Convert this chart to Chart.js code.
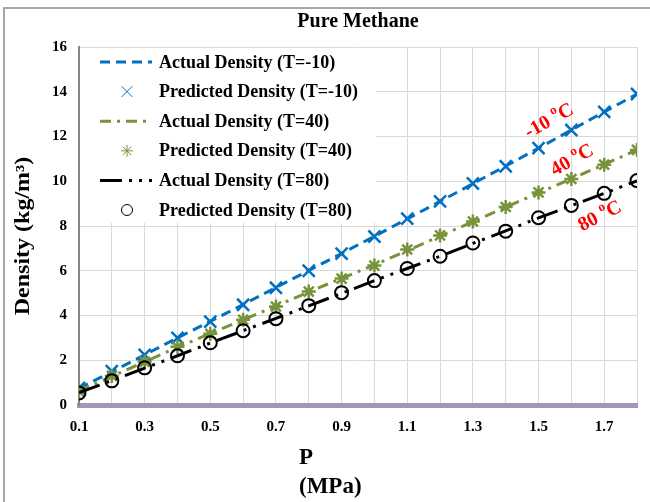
<!DOCTYPE html>
<html>
<head>
<meta charset="utf-8">
<script src="https://cdn.jsdelivr.net/npm/chart.js@4/dist/chart.umd.min.js"></script>
<style>
  body { margin: 0; background: #fff; }
</style>
</head>
<body>
<canvas id="myChart" width="650" height="502"></canvas>
<script>
// presion (MPa) y densidades (kg/m3)
var presion = [0.1, 0.2, 0.3, 0.4, 0.5, 0.6, 0.7, 0.8, 0.9, 1.0, 1.1, 1.2, 1.3, 1.4, 1.5, 1.6, 1.7, 1.8];

var actualMenos10 = [0.74, 1.49, 2.24, 3.0, 3.74, 4.49, 5.25, 6.01, 6.77, 7.54, 8.32, 9.1, 9.89, 10.68, 11.48, 12.29, 13.1, 13.9];
var predMenos10   = [0.76, 1.51, 2.24, 3.0, 3.73, 4.48, 5.24, 6.0, 6.77, 7.53, 8.33, 9.1, 9.9, 10.67, 11.48, 12.29, 13.1, 13.9];

var actual40 = [0.63, 1.28, 1.93, 2.58, 3.19, 3.81, 4.42, 5.05, 5.66, 6.26, 6.9, 7.55, 8.19, 8.84, 9.48, 10.11, 10.75, 11.4];
var pred40   = [0.62, 1.3, 1.93, 2.6, 3.18, 3.81, 4.4, 5.07, 5.65, 6.23, 6.95, 7.58, 8.2, 8.85, 9.5, 10.1, 10.74, 11.4];

var actual80 = [0.55, 1.09, 1.65, 2.2, 2.77, 3.32, 3.87, 4.43, 4.99, 5.56, 6.1, 6.65, 7.22, 7.78, 8.36, 8.91, 9.46, 10.02];
var pred80   = [0.54, 1.08, 1.66, 2.2, 2.78, 3.32, 3.86, 4.44, 5.02, 5.56, 6.1, 6.65, 7.24, 7.77, 8.37, 8.92, 9.46, 10.03];

var etiquetasX = ['0.1', '0.3', '0.5', '0.7', '0.9', '1.1', '1.3', '1.5', '1.7'];
var etiquetasY = [0, 2, 4, 6, 8, 10, 12, 14, 16];

var nombres = [
  'Actual Density (T=-10)',
  'Predicted Density (T=-10)',
  'Actual Density (T=40)',
  'Predicted Density (T=40)',
  'Actual Density (T=80)',
  'Predicted Density (T=80)'
];
var rotulosTemp = ['-10', '40', '80'];

var fuente = '"Liberation Serif", "Times New Roman", serif';
var azul = '#0070C0', verde = '#77933C', negro = '#000000';

function puntos(ys) {
  var out = [];
  for (var i = 0; i < presion.length; i++) {
    out.push({ x: presion[i], y: ys[i] });
  }
  return out;
}

function linea(nombre, ys, color, dash, orden) {
  return {
    label: nombre, data: puntos(ys), showLine: true,
    borderColor: color, backgroundColor: color, borderWidth: 3,
    borderDash: dash, pointRadius: 0, pointHoverRadius: 0, order: orden
  };
}

function marcas(nombre, ys, color, estilo, radio, grosor, orden) {
  return {
    label: nombre, data: puntos(ys), showLine: false,
    borderColor: color, backgroundColor: 'rgba(0,0,0,0)',
    pointStyle: estilo, pointRadius: radio, pointBorderWidth: grosor,
    pointBorderColor: color, pointBackgroundColor: 'rgba(0,0,0,0)', order: orden
  };
}

var datasets = [
  linea(nombres[0], actualMenos10, azul, [10, 6], 6),
  marcas(nombres[1], predMenos10, azul, 'crossRot', 8.5, 2.5, 5),
  linea(nombres[2], actual40, verde, [11, 6, 3, 6], 4),
  marcas(nombres[3], pred40, verde, 'star', 7, 2.5, 3),
  linea(nombres[4], actual80, negro, [22, 7, 3, 7, 3, 7], 2),
  marcas(nombres[5], pred80, negro, 'circle', 6.5, 2, 1)
];

function escribir(ctx, txt, x, y, font, align) {
  ctx.font = font;
  ctx.textAlign = align;
  ctx.fillText(txt, x, y);
}

function textoGrado(ctx, px, py, num, ang) {
  ctx.save();
  ctx.translate(px, py);
  ctx.rotate(ang * Math.PI / 180);
  ctx.fillStyle = '#FF0000';
  ctx.textBaseline = 'alphabetic';
  ctx.textAlign = 'left';
  var f1 = 'bold 20px ' + fuente, f2 = 'bold 13px ' + fuente;
  ctx.font = f1;
  var w1 = ctx.measureText(num + ' ').width;
  var w3 = ctx.measureText('C').width;
  ctx.font = f2;
  var w2 = ctx.measureText('o').width;
  var x0 = -(w1 + w2 + w3) / 2;
  ctx.font = f1; ctx.fillText(num + ' ', x0, 7);
  ctx.font = f2; ctx.fillText('o', x0 + w1, -2);
  ctx.font = f1; ctx.fillText('C', x0 + w1 + w2, 7);
  ctx.restore();
}

var extras = {
  id: 'extras',
  beforeDraw: function (chart) {
    var ctx = chart.ctx;
    var ca = chart.chartArea;
    ctx.save();
    // marco exterior
    ctx.strokeStyle = '#A6A6A6';
    ctx.lineWidth = 2;
    ctx.strokeRect(4, 8, 700, 600);
    ctx.fillStyle = '#000';
    ctx.textBaseline = 'middle';
    escribir(ctx, 'Pure Methane', (ca.left + ca.right) / 2, 22, 'bold 20px ' + fuente, 'center');
    // titulo eje x en dos lineas
    escribir(ctx, 'P', 299, 458, 'bold 23px ' + fuente, 'left');
    escribir(ctx, '(MPa)', 299, 487, 'bold 23px ' + fuente, 'left');
    // titulo eje y
    ctx.translate(24, 236);
    ctx.rotate(-Math.PI / 2);
    ctx.scale(1, 0.85);
    ctx.textAlign = 'center';
    ctx.font = 'bold 24px ' + fuente;
    ctx.fillText('Density (kg/m\u00B3)', 0, 0);
    ctx.restore();
  },
  afterDatasetsDraw: function (chart) {
    var ctx = chart.ctx;
    var ca = chart.chartArea;
    ctx.save();
    ctx.fillStyle = '#fff';
    ctx.fillRect(ca.left + 1, ca.top + 1, 296, 175);
    for (var i = 0; i < datasets.length; i++) {
      var ds = datasets[i];
      var y = 62 + i * 29.6;
      if (ds.showLine) {
        ctx.save();
        ctx.strokeStyle = ds.borderColor;
        ctx.lineWidth = 3;
        ctx.setLineDash(ds.borderDash);
        ctx.beginPath();
        ctx.moveTo(100, y);
        ctx.lineTo(152, y);
        ctx.stroke();
        ctx.restore();
      } else {
        ctx.save();
        ctx.strokeStyle = ds.pointBorderColor;
        ctx.fillStyle = 'rgba(0,0,0,0)';
        Chart.helpers.drawPoint(ctx, { pointStyle: ds.pointStyle, radius: ds.pointRadius - 1, borderWidth: ds.pointBorderWidth, rotation: 0 }, 127, y);
        ctx.restore();
      }
      ctx.fillStyle = '#000';
      ctx.textBaseline = 'middle';
      escribir(ctx, ds.label, 159, y + 1, 'bold 18px ' + fuente, 'left');
    }
    ctx.restore();
  },
  afterDraw: function (chart) {
    var ctx = chart.ctx;
    var sx = chart.scales.x, sy = chart.scales.y;
    textoGrado(ctx, sx.getPixelForValue(1.53), sy.getPixelForValue(12.75), rotulosTemp[0], -29);
    textoGrado(ctx, sx.getPixelForValue(1.6), sy.getPixelForValue(11.0), rotulosTemp[1], -29);
    textoGrado(ctx, sx.getPixelForValue(1.685), sy.getPixelForValue(8.5), rotulosTemp[2], -27);
  }
};

var ctx = document.getElementById('myChart').getContext('2d');
var chart = new Chart(ctx, {
  type: 'scatter',
  data: { datasets: datasets },
  options: {
    responsive: false,
    animation: false,
    layout: { padding: { top: 47, right: 10, left: 0, bottom: 0 } },
    plugins: { legend: { display: false }, title: { display: false }, tooltip: { enabled: false } },
    scales: {
      x: {
        type: 'linear', min: 0.1, max: 1.8,
        afterFit: function (s) { s.height = 97; },
        ticks: {
          stepSize: 0.1, autoSkip: false, maxRotation: 0, padding: 13,
          color: '#000', font: { family: fuente, size: 15, weight: 'bold' },
          callback: function (v) {
            var t = Number(v).toFixed(1);
            return etiquetasX.indexOf(t) >= 0 ? t : '';
          }
        },
        grid: { color: '#D9D9D9', lineWidth: 1, drawTicks: false },
        border: { color: '#A396BA', width: 5 }
      },
      y: {
        min: 0, max: 16,
        afterFit: function (s) { s.width = 79; },
        afterBuildTicks: function (s) {
          s.ticks = etiquetasY.map(function (v) { return { value: v }; });
        },
        ticks: {
          padding: 12, color: '#000',
          font: { family: fuente, size: 15, weight: 'bold' }
        },
        grid: { color: '#D9D9D9', lineWidth: 1, drawTicks: false },
        border: { color: '#868686', width: 2 }
      }
    }
  },
  plugins: [extras]
});
</script>
</body>
</html>
